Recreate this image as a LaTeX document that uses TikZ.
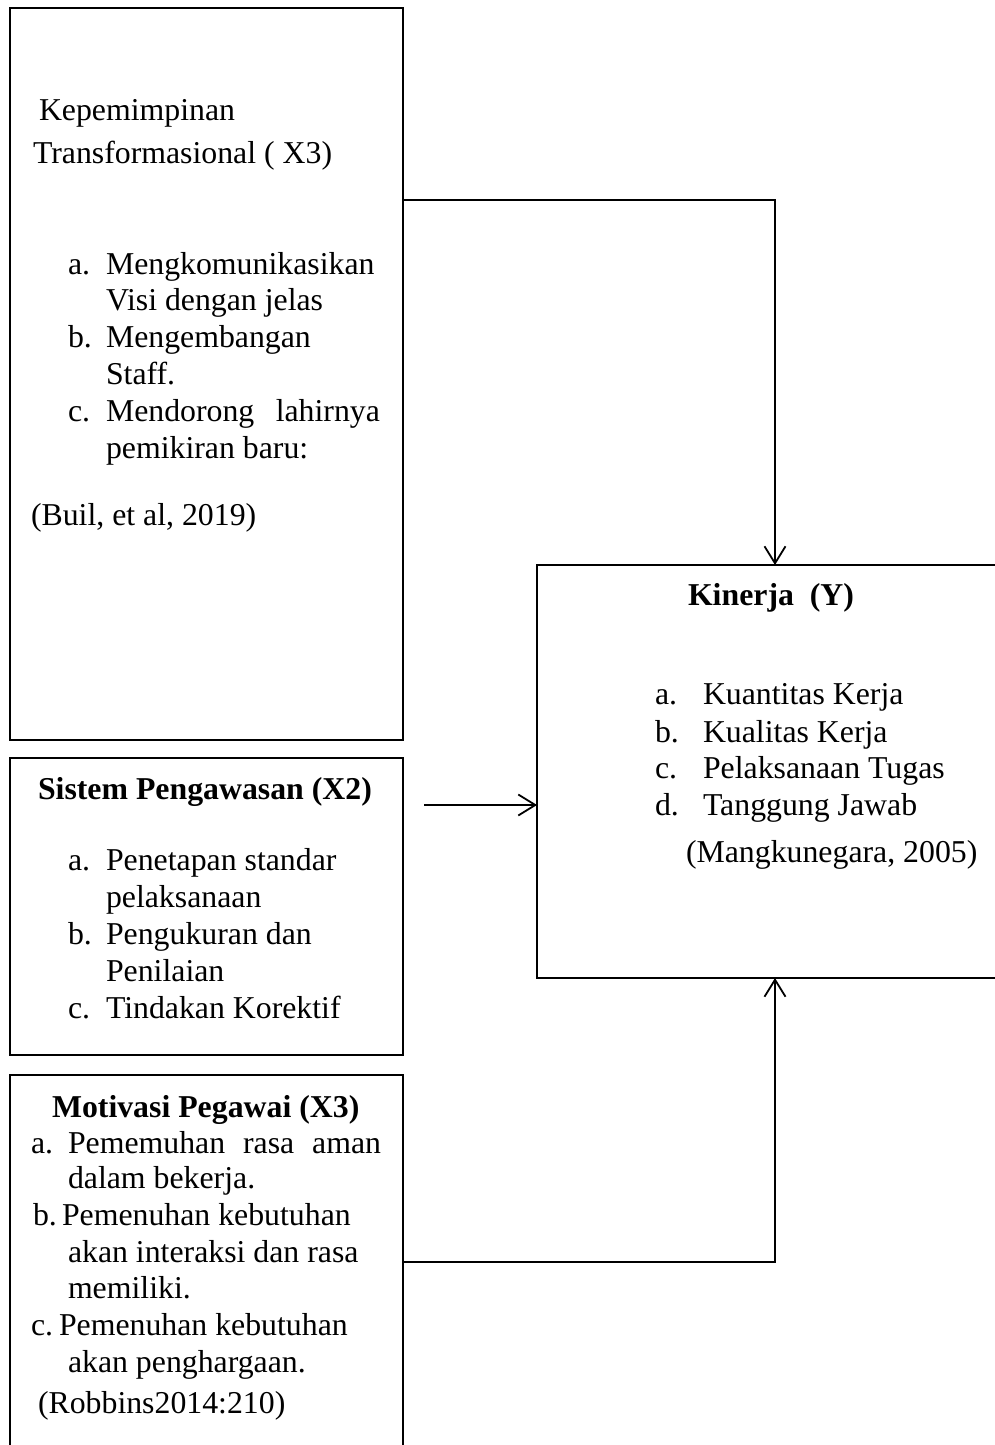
\documentclass[tikz,border=0pt]{standalone}
\usepackage{fontspec}
\setmainfont{Liberation Serif}
\usetikzlibrary{arrows.meta}
\begin{document}
\begin{tikzpicture}[x=1pt,y=-1pt,
  txt/.style={anchor=base west, inner sep=0pt, outer sep=0pt, font=\fontsize{31.8}{38}\selectfont},
  ttl/.style={txt, font=\fontsize{31.8}{38}\selectfont\bfseries},
  box/.style={draw, line width=1.5pt, anchor=north west, inner sep=0pt, outer sep=0pt},
  conn/.style={line width=1.8pt, -{Straight Barb[length=17pt,width=21pt,line width=1.8pt]}}]
\useasboundingbox (0,0) rectangle (995,1445);
\clip (0,0) rectangle (995,1445);
% boxes
\node[box, minimum width=393pt, minimum height=732pt] (b1) at (10,8) {};
\node[box, minimum width=393pt, minimum height=297pt] (b2) at (10,758) {};
\node[box, minimum width=393pt, minimum height=390pt] (b3) at (10,1075) {};
\node[box, minimum width=475pt, minimum height=413pt] (ky) at (537,565) {};
% box 1 text
\node[txt] (k1) at (39,120) {Kepemimpinan};
\node[txt] (k2) at (33,163) {Transformasional ( X3)};
\node[txt] (k3a) at (68,274) {a.};
\node[txt] (k3) at (106,274) {Mengkomunikasikan};
\node[txt] (k4) at (106,310) {Visi dengan jelas};
\node[txt] (k5a) at (68,347) {b.};
\node[txt] (k5) at (106,347) {Mengembangan};
\node[txt] (k6) at (106,384) {Staff.};
\node[txt] (k7a) at (68,421) {c.};
\node[txt] (k7) at (106,421) {\makebox[274pt][l]{Mendorong\hfill lahirnya}};
\node[txt] (k8) at (106,458) {pemikiran baru:};
\node[txt] (k9) at (31,525) {(Buil, et al, 2019)};
% box 2 text
\node[ttl] (s0) at (38,799) {Sistem Pengawasan (X2)};
\node[txt] (s1a) at (68,870) {a.};
\node[txt] (s1) at (106,870) {Penetapan standar};
\node[txt] (s2) at (106,907) {pelaksanaan};
\node[txt] (s3a) at (68,944) {b.};
\node[txt] (s3) at (106,944) {Pengukuran dan};
\node[txt] (s4) at (106,981) {Penilaian};
\node[txt] (s5a) at (68,1018) {c.};
\node[txt] (s5) at (106,1018) {Tindakan Korektif};
% box 3 text
\node[ttl] (m0) at (52,1117) {Motivasi Pegawai (X3)};
\node[txt] (m1a) at (31,1153) {a.};
\node[txt] (m1) at (68,1153) {\makebox[313pt][l]{Pememuhan\hfill rasa\hfill aman}};
\node[txt] (m2) at (68,1188) {dalam bekerja.};
\node[txt] (m3a) at (33,1225) {b.};
\node[txt] (m3) at (62,1225) {Pemenuhan kebutuhan};
\node[txt] (m4) at (68,1262) {akan interaksi dan rasa};
\node[txt] (m5) at (68,1298) {memiliki.};
\node[txt] (m6a) at (31,1335) {c.};
\node[txt] (m6) at (59,1335) {Pemenuhan kebutuhan};
\node[txt] (m7) at (68,1372) {akan penghargaan.};
\node[txt] (m8) at (38,1413) {(Robbins2014:210)};
% Kinerja text
\node[ttl] (y0) at (688,605) {Kinerja\ \ (Y)};
\node[txt] (y1a) at (655,704) {a.};
\node[txt] (y1) at (703,704) {Kuantitas Kerja};
\node[txt] (y2a) at (655,742) {b.};
\node[txt] (y2) at (703,742) {Kualitas Kerja};
\node[txt] (y3a) at (655,778) {c.};
\node[txt] (y3) at (703,778) {Pelaksanaan Tugas};
\node[txt] (y4a) at (655,815) {d.};
\node[txt] (y4) at (703,815) {Tanggung Jawab};
\node[txt] (y5) at (686,862) {(Mangkunegara, 2005)};
% connectors
\coordinate (c1) at (775,200);
\coordinate (c2) at (424,805);
\coordinate (c3) at (775,1262);
\draw[conn] (b1.east |- c1) -| (ky.north -| c1);
\draw[conn] (c2) -- (ky.west |- c2);
\draw[conn] (b3.east |- c3) -| (ky.south -| c3);
\end{tikzpicture}
\end{document}
